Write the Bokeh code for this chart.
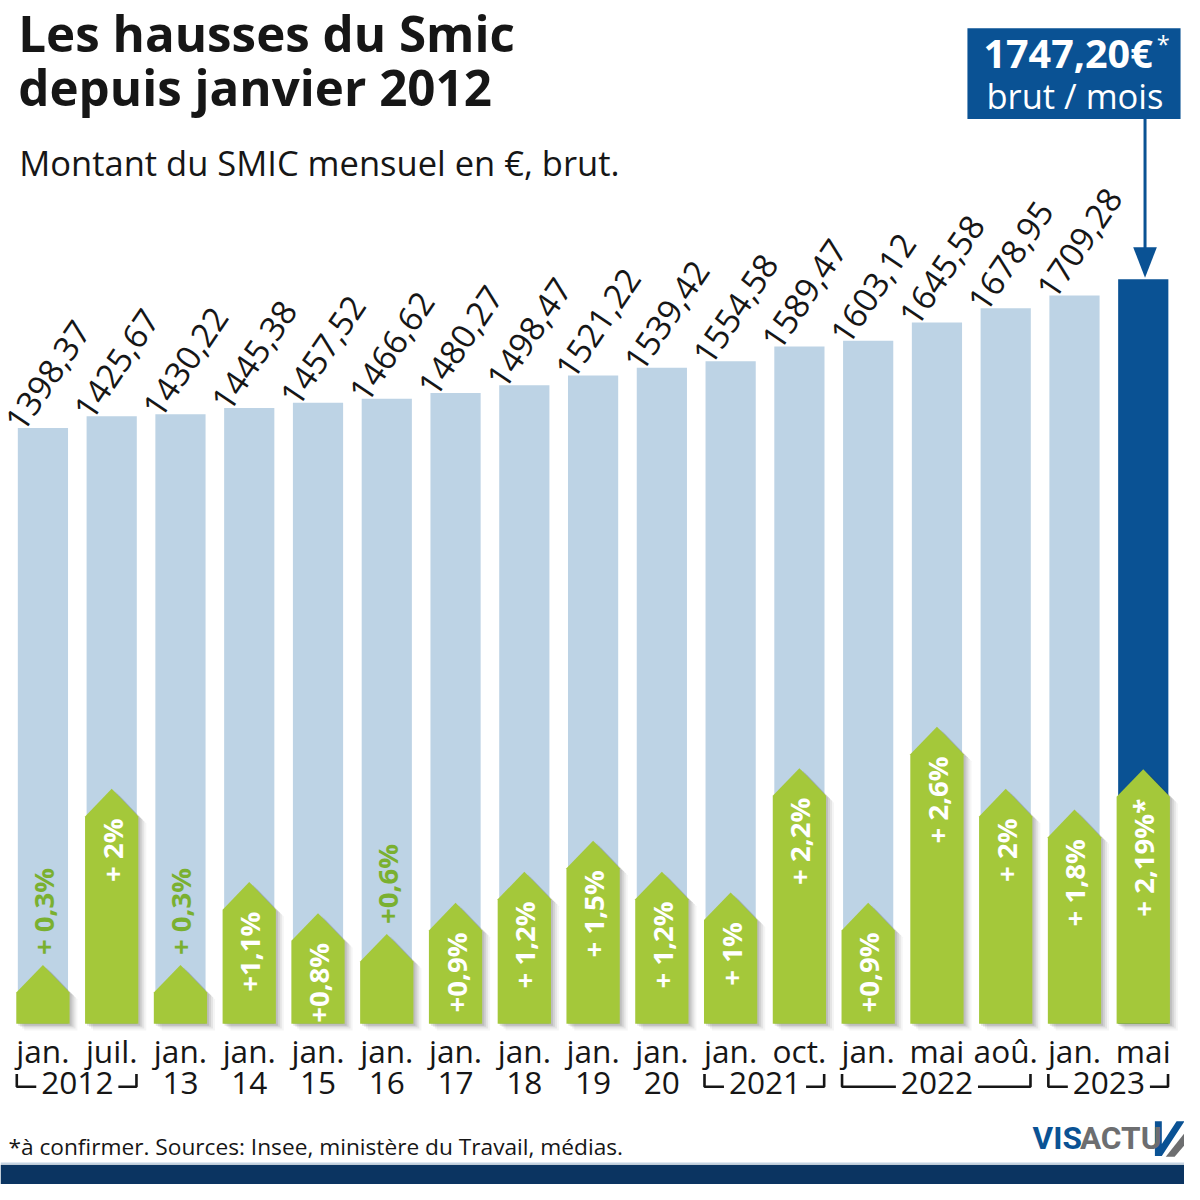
import numpy as np
from bokeh.plotting import figure
from bokeh.models import ColumnDataSource, Range1d, Label
from bokeh.core.properties import value
from bokeh.embed import file_html
from bokeh.resources import INLINE

# ---------------- data ----------------
months = ["jan.", "juil.", "jan.", "jan.", "jan.", "jan.", "jan.", "jan.", "jan.",
          "jan.", "jan.", "oct.", "jan.", "mai", "aoû.", "jan.", "mai"]
smic = [1398.37, 1425.67, 1430.22, 1445.38, 1457.52, 1466.62, 1480.27, 1498.47,
        1521.22, 1539.42, 1554.58, 1589.47, 1603.12, 1645.58, 1678.95, 1709.28, 1747.20]
hausse = [0.3, 2.0, 0.3, 1.1, 0.8, 0.6, 0.9, 1.2, 1.5, 1.2, 1.0, 2.2, 0.9, 2.6, 2.0, 1.8, 2.19]
hausse_labels = ["+ 0,3%", "+ 2%", "+ 0,3%", "+1,1%", "+0,8%", "+0,6%", "+0,9%", "+ 1,2%",
                 "+ 1,5%", "+ 1,2%", "+ 1%", "+ 2,2%", "+0,9%", "+ 2,6%", "+ 2%", "+ 1,8%",
                 "+ 2,19%*"]
year_labels = ["2012", "13", "14", "15", "16", "17", "18", "19", "20", "2021", "2022", "2023"]
year_first = [0, 2, 3, 4, 5, 6, 7, 8, 9, 10, 12, 15]
year_last = [1, 2, 3, 4, 5, 6, 7, 8, 9, 11, 14, 16]
latest_label = "1747,20€"

# ---------------- layout helpers (reference pixel grid, scaled to canvas) ----------------
W = 1184
S = W / 1200.0
STEP = 69.7          # px between bar centres
X0 = 43.0            # px centre of first bar
BASE = 1037.0        # px of baseline
PPE = 0.4318         # px per euro
PCT_PX = 105.0       # px per % of hausse
TIP_PX = 28.0


def xd(px):
    return (px - X0) / STEP


def yd(py):
    return (BASE - py) / PPE


def fs(px):
    return "%.1fpx" % (px * S)


FONT = "Open Sans"
BLUE_L = "#bdd3e5"
BLUE_D = "#0a5294"
GREEN = "#a4c83a"
GREEN_T = "#7ab030"
INK = "#161616"

p = figure(width=W, height=W, x_range=Range1d(xd(0), xd(1200)),
           y_range=Range1d(yd(1200), yd(0)), output_backend="svg",
           toolbar_location=None, min_border=0)
p.axis.visible = False
p.grid.visible = False
p.outline_line_color = None
p.background_fill_color = "white"

n = len(smic)
idx = list(range(n))

# ---------------- bars ----------------
bar_colors = [BLUE_L] * (n - 1) + [BLUE_D]
p.vbar(x=idx, top=smic, bottom=0, width=0.73, fill_color=bar_colors, line_color=None)

# value labels (rotated)
ang = np.deg2rad(56)
vsrc = ColumnDataSource(dict(
    x=[i - 30.0 / STEP for i in idx[:-1]],
    y=[v + 1 / PPE for v in smic[:-1]],
    t=[("%.2f" % v).replace(".", ",") for v in smic[:-1]],
))
p.text(x="x", y="y", text="t", source=vsrc, angle=ang,
       text_align="left", text_baseline="alphabetic",
       text_font=value(FONT), text_font_size=fs(34), text_color=INK)

# ---------------- arrows ----------------
hw = 27.0 / STEP


def arrow_poly(i, h, dx=0.0, dy=0.0):
    body = h * PCT_PX / PPE
    tip = body + TIP_PX / PPE
    xs = [i - hw + dx, i - hw + dx, i + dx, i + hw + dx, i + hw + dx]
    ys = [0 + dy, body + dy, tip + dy, body + dy, 0 + dy]
    return xs, ys


for (ox, oy, al) in [(8, 7, 0.05), (6, 5, 0.08), (4, 3, 0.10), (2, 2, 0.12)]:
    xs, ys = [], []
    for i, h in zip(idx, hausse):
        a, b = arrow_poly(i, h, ox / STEP, -oy / PPE)
        xs.append(a)
        ys.append(b)
    p.patches(xs, ys, fill_color="#333333", fill_alpha=al, line_color=None)

xs, ys = [], []
for i, h in zip(idx, hausse):
    a, b = arrow_poly(i, h)
    xs.append(a)
    ys.append(b)
p.patches(xs, ys, fill_color=GREEN, line_color=None)

# arrow labels
in_x, in_y, in_t, out_x, out_y, out_t = [], [], [], [], [], []
for i, h, t in zip(idx, hausse, hausse_labels):
    body = h * PCT_PX / PPE
    if h < 0.7:
        out_x.append(i)
        out_y.append(body + (TIP_PX + 10) / PPE)
        out_t.append(t)
    else:
        in_x.append(i)
        in_y.append(body - 2 / PPE)
        in_t.append(t)
p.text(x=in_x, y=in_y, text=in_t, angle=np.pi / 2, text_align="right",
       text_baseline="middle", text_font=value(FONT), text_font_style="bold",
       text_font_size=fs(28), text_color="white")
p.text(x=out_x, y=out_y, text=out_t, angle=np.pi / 2, text_align="left",
       text_baseline="middle", text_font=value(FONT), text_font_style="bold",
       text_font_size=fs(28), text_color=GREEN_T)

# ---------------- x labels ----------------
p.text(x=idx, y=[yd(1064)] * n, text=months, text_align="center",
       text_baseline="middle", text_font=value(FONT), text_font_size=fs(32),
       text_color=INK)

yc = [(a + b) / 2 for a, b in zip(year_first, year_last)]
p.text(x=yc, y=[yd(1097)] * len(yc), text=year_labels, text_align="center",
       text_baseline="middle", text_font=value(FONT), text_font_size=fs(32),
       text_color=INK)

bx, by = [], []
for lab_, a, b, c in zip(year_labels, year_first, year_last, yc):
    if a == b:
        continue
    left = a - 0.38
    right = b + 0.36
    half = (len(lab_) * 0.572 * 32 / 2 + 5) / STEP
    ytop, ybot = yd(1088), yd(1101)
    bx.append([left, left, c - half])
    by.append([ytop, ybot, ybot])
    bx.append([c + half, right, right])
    by.append([ybot, ybot, ytop])
p.multi_line(bx, by, line_color=INK, line_width=2.6)


# ---------------- title etc (y = visual centre of capitals) ----------------
def lab(x, y, text, size, bold=False, color=INK, align="left", font=FONT):
    p.add_layout(Label(x=xd(x), y=yd(y), text=text, text_font=font,
                       text_font_size=fs(size), text_font_style="bold" if bold else "normal",
                       text_color=color, text_align=align, text_baseline="middle"))


lab(18, 32, "Les hausses du Smic", 50, bold=True)
lab(18, 87, "depuis janvier 2012", 50, bold=True)
lab(19, 164, "Montant du SMIC mensuel en €, brut.", 35)
lab(8, 1161, "*à confirmer. Sources: Insee, ministère du Travail, médias.", 23)

# highlight box + arrow
p.quad(left=xd(980), right=xd(1196), top=yd(28), bottom=yd(120),
       fill_color=BLUE_D, line_color=None)
lab(1082, 53, latest_label, 40, bold=True, color="white", align="center")
lab(1172, 44, "*", 24, color="white")
lab(1089, 96, "brut / mois", 35, color="white", align="center")
p.segment(x0=xd(1160), y0=yd(120), x1=xd(1160), y1=yd(255), line_color=BLUE_D, line_width=3)
p.patch([xd(1148), xd(1172), xd(1160)], [yd(250), yd(250), yd(281)],
        fill_color=BLUE_D, line_color=None)

# footer band and logo
p.quad(left=xd(0), right=xd(1200), top=yd(1180), bottom=yd(1200),
       fill_color="#0b3461", line_color=None)
p.segment(x0=xd(0), y0=yd(1178.5), x1=xd(1200), y1=yd(1178.5), line_color="#c5d4e3", line_width=1.5)
lab(1046, 1153, "VIS", 32, bold=True, color=BLUE_D, font="Roboto")
lab(1094, 1153, "ACTU", 32, bold=True, color="#6d6e70", font="Roboto")
p.patch([xd(1170), xd(1177), xd(1177), xd(1192), xd(1200), xd(1177), xd(1170)],
        [yd(1136), yd(1136), yd(1159), yd(1136), yd(1136), yd(1171), yd(1171)],
        fill_color=BLUE_D, line_color=None)
p.patch([xd(1181), xd(1190), xd(1200), xd(1200)],
        [yd(1172), yd(1172), yd(1160), yd(1148)],
        fill_color="#6d6e70", line_color=None)

open("out.html", "w").write(file_html(p, INLINE))
